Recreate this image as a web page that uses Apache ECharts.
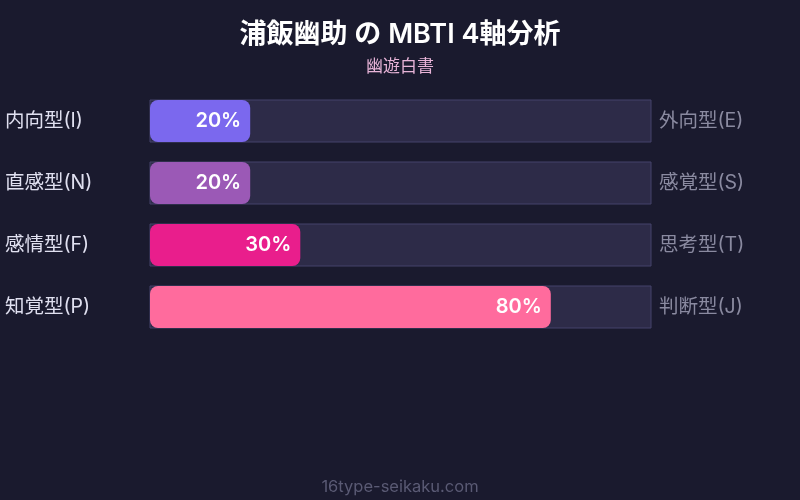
<!DOCTYPE html>
<html><head><meta charset="utf-8">
<script src="https://cdn.jsdelivr.net/npm/echarts@6/dist/echarts.min.js"></script>
<style>html,body{margin:0;padding:0;background:#1a1a2e;}#c{width:800px;height:500px;}</style>
</head><body><div id="c"></div>
<script>
const leftLabels = ['内向型(I)', '直感型(N)', '感情型(F)', '知覚型(P)'];
const rightLabels = ['外向型(E)', '感覚型(S)', '思考型(T)', '判断型(J)'];
const values = [20, 20, 30, 80];
const colors = ['#7b68ee', '#9b59b6', '#e91e8c', '#ff6b9d'];
const FONT = 'Inter, "Noto Sans CJK JP", sans-serif';

const chart = echarts.init(document.getElementById('c'), null, {renderer: 'canvas'});
chart.setOption({
  backgroundColor: '#1a1a2e',
  animation: false,
  title: [
    {text: '浦飯幽助 の MBTI 4軸分析', left: 'center', top: 16,
     textStyle: {color: '#ffffff', fontSize: 27, fontWeight: 600, fontFamily: FONT}},
    {text: '幽遊白書', left: 'center', top: 53,
     textStyle: {color: '#e8b4d8', fontSize: 17, fontWeight: 'normal', fontFamily: FONT}},
    {text: '16type-seikaku.com', left: 'center', top: 474,
     textStyle: {color: '#5a5a74', fontSize: 16.5, fontWeight: 'normal', fontFamily: FONT}}
  ],
  grid: {left: 150, right: 149, top: 90, height: 248},
  xAxis: {type: 'value', min: 0, max: 100, show: false},
  yAxis: [
    {type: 'category', data: leftLabels, inverse: true, position: 'left',
     axisLine: {show: false}, axisTick: {show: false},
     axisLabel: {color: '#e0e0f0', fontSize: 19.5, fontFamily: FONT, align: 'left', margin: 145}},
    {type: 'category', data: rightLabels, inverse: true, position: 'right',
     axisLine: {show: false}, axisTick: {show: false},
     axisLabel: {color: '#8a8aa0', fontSize: 19.5, fontFamily: FONT, align: 'left', margin: 8}}
  ],
  series: [{
    type: 'bar',
    yAxisIndex: 0,
    barWidth: 42,
    showBackground: true,
    backgroundStyle: {color: '#2d2b48', borderColor: '#45436a', borderWidth: 1},
    data: values.map((v, i) => ({value: v, itemStyle: {color: colors[i], borderRadius: 8}})),
    label: {show: true, position: 'insideRight', distance: 9, formatter: '{c}%',
      color: '#ffffff', fontSize: 20, fontWeight: 600, fontFamily: FONT}
  }]
});
</script></body></html>
